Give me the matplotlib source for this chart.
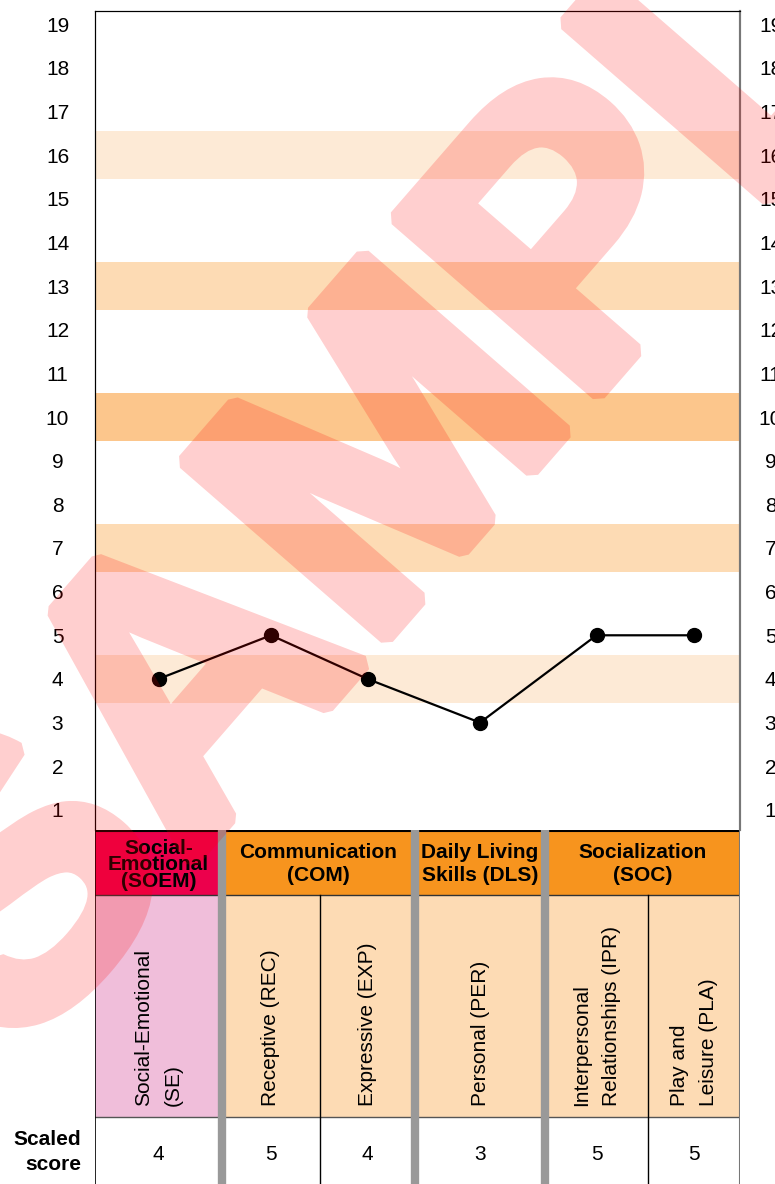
import matplotlib
matplotlib.use("Agg")
import matplotlib.pyplot as plt
import matplotlib.patheffects as pe
from matplotlib.patches import Rectangle

plt.rcParams['font.family'] = ['Liberation Sans', 'DejaVu Sans']

# data
domains = ['Social-\nEmotional\n(SOEM)', 'Communication\n(COM)', 'Daily Living\nSkills (DLS)', 'Socialization\n(SOC)']
domain_span = [1, 2, 1, 2]
subtests = ['Social-Emotional\n(SE)', 'Receptive (REC)', 'Expressive (EXP)', 'Personal (PER)',
            'Interpersonal\nRelationships (IPR)', 'Play and\nLeisure (PLA)']
scores = [4, 5, 4, 3, 5, 5]
band_levels = [16, 13, 10, 7, 4]
y_ticks = list(range(1, 20))

# layout (pixels)
W, H = 775, 1184
col_w = [127, 98, 95, 130, 103, 92]
edges = [0]
for w in col_w:
    edges.append(edges[-1] + w)
centers = [(edges[i] + edges[i + 1]) / 2 for i in range(len(col_w))]

band_colors = ['#FDEAD6', '#FDDBB4', '#FCC68C', '#FDDBB4', '#FDEAD6']
head_colors = ['#EC004C', '#F7941E', '#F7941E', '#F7941E']
sub_colors = ['#F0BEDA'] + ['#FDDBB4'] * 5

fig = plt.figure(figsize=(W / 100, H / 100), dpi=100)

# chart
ax = fig.add_axes([95 / W, (H - 830) / H, 645 / W, 819 / H])
ax.set_xlim(0, edges[-1])
ax.set_ylim(0.54, 19.3)
for lvl, c in zip(band_levels, band_colors):
    ax.axhspan(lvl - 0.55, lvl + 0.55, color=c, lw=0, zorder=0)
ax.plot(centers, scores, color='black', lw=1.6, marker='o', ms=10, zorder=3)
ax.set_xticks([])
ax.set_yticks(y_ticks)
ax.tick_params(axis='y', length=0, labelsize=15, pad=27)
for lab in ax.get_yticklabels():
    lab.set_ha('center')
ax2 = ax.twinx()
ax2.set_ylim(ax.get_ylim())
ax2.set_yticks(y_ticks)
ax2.tick_params(axis='y', length=0, labelsize=15, pad=22)
for lab in ax2.get_yticklabels():
    lab.set_ha('center')
for a in (ax, ax2):
    a.spines['bottom'].set_visible(False)
    a.spines['left'].set_color('black')
    a.spines['top'].set_color('black')
    a.spines['right'].set_color('#777777')
    a.spines['right'].set_linewidth(1.5)

# table
axt = fig.add_axes([95 / W, 0, 645 / W, 354 / H])
axt.set_xlim(0, edges[-1])
axt.set_ylim(354, 0)
axt.axis('off')

i = 0
for name, span, c in zip(domains, domain_span, head_colors):
    x0, x1 = edges[i], edges[i + span]
    axt.add_patch(Rectangle((x0, 0), x1 - x0, 65, color=c, lw=0))
    if i == 0:
        axt.text((x0 + x1) / 2, 35, name, ha='center', va='center', fontsize=15,
                 fontweight='bold', linespacing=0.85)
    else:
        axt.text((x0 + x1) / 2, 34, name, ha='center', va='center', fontsize=15,
                 fontweight='bold', linespacing=1.3)
    i += span

for k, (name, c) in enumerate(zip(subtests, sub_colors)):
    axt.add_patch(Rectangle((edges[k], 65), col_w[k], 222, color=c, lw=0))
    axt.text(centers[k], 276, name, rotation=90, ha='center', va='bottom',
             multialignment='left', fontsize=15, linespacing=1.7)
    axt.text(centers[k], 324, str(scores[k]), ha='center', va='center', fontsize=15)

axt.text(-14, 322, 'Scaled\nscore', ha='right', va='center', multialignment='right',
         fontsize=15, fontweight='bold', linespacing=1.35, clip_on=False)

axt.plot([0, edges[-1]], [0.5, 0.5], color='black', lw=1.5)
axt.plot([0, edges[-1]], [65, 65], color='#333333', lw=1)
axt.plot([0, edges[-1]], [287, 287], color='#555555', lw=1)
axt.plot([0, 0], [0, 354], color='black', lw=1.2)
axt.plot([edges[-1], edges[-1]], [0, 354], color='#777777', lw=1.5)
for x in (edges[2], edges[5]):
    axt.plot([x, x], [65, 354], color='black', lw=1)
for x in (edges[1], edges[3], edges[4]):
    axt.plot([x, x], [0, 354], color='#999999', lw=6, solid_capstyle='round')


# watermark: opaque heavy text, faded as a whole so the outline does not double up
def fade(img, dpi):
    out = img.copy()
    out[..., 3] *= 0.19
    return out, 0, 0


wm = fig.text(546 / W, 1 - 453 / H, 'SAMPLE', fontsize=279, fontweight='bold',
              color='#FF0000', rotation=49, ha='center', va='baseline',
              rotation_mode='anchor', zorder=100)
wm.set_path_effects([pe.Stroke(linewidth=12, foreground='#FF0000', joinstyle='bevel'),
                     pe.Normal()])
wm.set_agg_filter(fade)

fig.savefig('out.png', dpi=100)
